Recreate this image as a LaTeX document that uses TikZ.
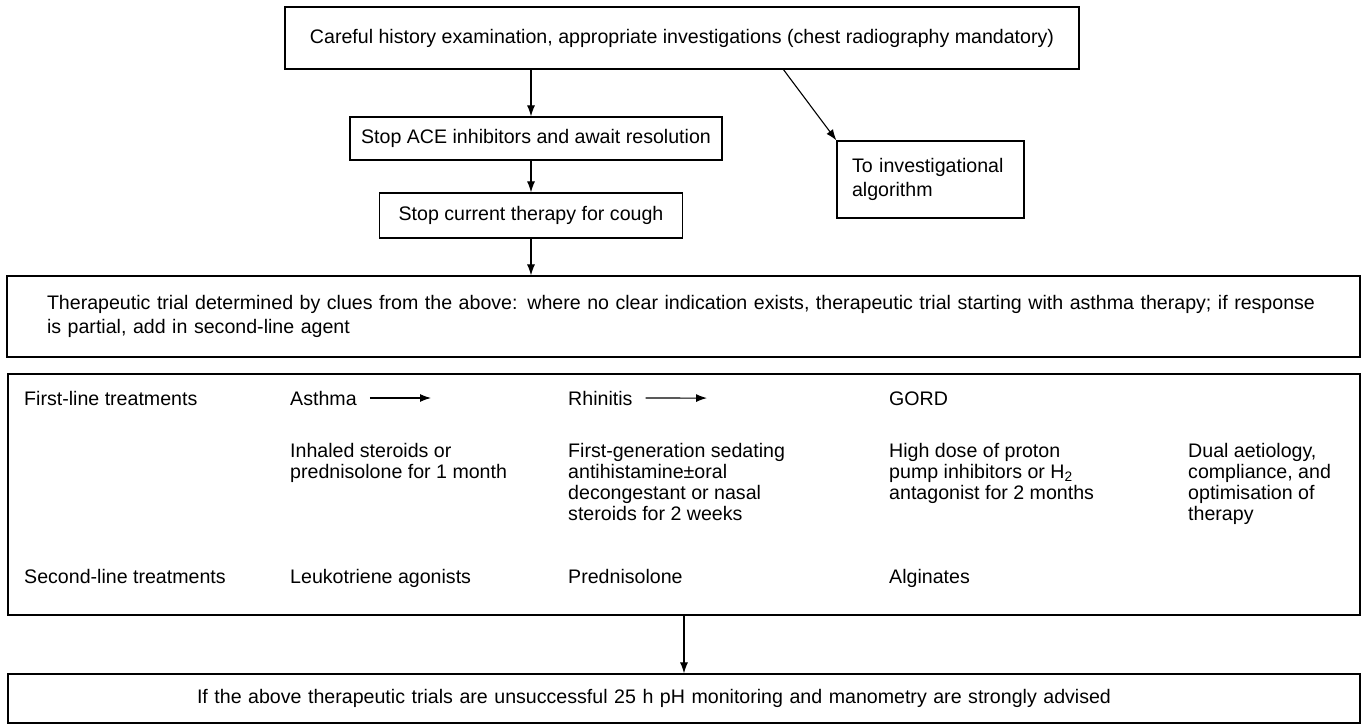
\documentclass[tikz,border=0pt]{standalone}
\usepackage{fontspec}
\setmainfont{Liberation Sans}
\usetikzlibrary{arrows.meta}

\begin{document}
\begin{tikzpicture}[x=1pt,y=-1pt,
    every node/.style={font=\fontsize{19.6}{23.5}\selectfont},
    box/.style={draw, line width=1.2pt, inner sep=0pt},
    arr/.style={line width=1.1pt, -{Latex[length=11pt,width=8pt]}},
    txt/.style={inner sep=0pt, anchor=base west},
    col/.style={inner sep=0pt, anchor=north west, align=left, font=\fontsize{19.6}{21}\selectfont}]
    \useasboundingbox (0,0) rectangle (1364,725);

    % upper flow
    \node[box, minimum width=794pt, minimum height=62pt] (hist) at (682,38) {Careful history examination, appropriate investigations (chest radiography mandatory)};
    \node[box, minimum width=372pt, minimum height=43pt] (ace) at (536,138.5) {Stop ACE inhibitors and await resolution};
    \node[box, minimum width=303pt, minimum height=45pt] (stop) at (531,215.5) {Stop current therapy for cough};
    \node[box, minimum height=77pt, inner xsep=15pt, text width=157pt, align=left, font=\fontsize{19.6}{24.5}\selectfont] (invest) at (930.5,179.5) {To investigational\\algorithm};
    \coordinate (split) at (783,69);

    \draw[arr] (hist.south -| stop) -- (ace.north -| stop);
    \draw[arr] (ace.south -| stop) -- (stop.north);
    \draw[arr] (split) -- (invest.north west);

    \node[box, inner xsep=40pt, minimum height=81pt, text width=1273pt, align=left] (trial) at (683.5,316.5) {Therapeutic trial determined by clues from the above: where no clear indication exists, therapeutic trial starting with asthma therapy; if response\\is partial, add in second-line agent};
    \draw[arr] (stop.south) -- (stop.south |- trial.north);

    % treatments
    \node[box, minimum width=1352pt, minimum height=241pt] (treat) at (684,494.5) {};

    \node[txt] (first) at (24,405) {First-line treatments};
    \node[txt] (asthma) at (290,405) {Asthma};
    \node[txt] (rhin) at (568,405) {Rhinitis};
    \node[txt] (gord) at (889,405) {GORD};
    \draw[arr, shorten <=13pt, shorten >=137pt] (asthma.east) -- (rhin.west);
    \draw[arr, shorten <=13pt, shorten >=182pt] (rhin.east) -- (gord.west);

    \node[col] (asthmarx) at (290,443) {Inhaled steroids or\\prednisolone for 1 month};
    \node[col] (rhinrx) at (568,443) {First-generation sedating\\antihistamine±oral\\decongestant or nasal\\steroids for 2 weeks};
    \node[col] (gordrx) at (889,443) {High dose of proton\\pump inhibitors or H\textsubscript{2}\\antagonist for 2 months};
    \node[col] (dual) at (1188,443) {Dual aetiology,\\compliance, and\\optimisation of\\therapy};

    \node[txt] (second) at (24,583) {Second-line treatments};
    \node[txt] (leuko) at (290,583) {Leukotriene agonists};
    \node[txt] (pred) at (568,583) {Prednisolone};
    \node[txt] (algin) at (889,583) {Alginates};

    % last step
    \node[box, inner xsep=189pt, minimum height=49pt, text width=974pt, align=left] (advice) at (684,698.5) {If the above therapeutic trials are unsuccessful 25 h pH monitoring and manometry are strongly advised};
    \draw[arr] (treat.south) -- (advice.north);
\end{tikzpicture}
\end{document}
